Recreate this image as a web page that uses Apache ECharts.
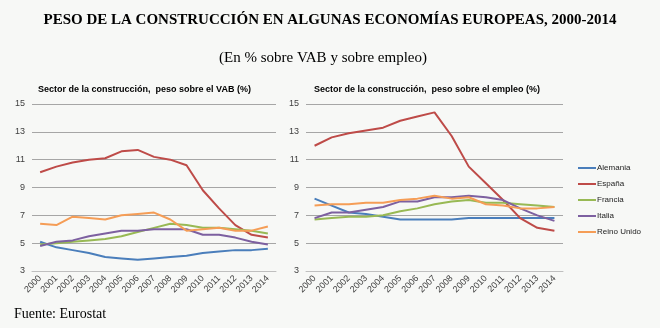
<!DOCTYPE html>
<html>
<head>
<meta charset="utf-8">
<script src="https://cdn.jsdelivr.net/npm/echarts@6/dist/echarts.min.js"></script>
<style>
html,body{margin:0;padding:0;background:#f7f8f6;}
#c{width:660px;height:328px;}
</style>
</head>
<body>
<div id="c"></div>
<script>
var years = ['2000','2001','2002','2003','2004','2005','2006','2007','2008','2009','2010','2011','2012','2013','2014'];
var seriesNames = ['Alemania','España','Francia','Italia','Reino Unido'];
var yTicks = [3,5,7,9,11,13,15];

// Peso sobre el VAB (%)
var vabAlemania   = [5.1,4.7,4.5,4.3,4.0,3.9,3.8,3.9,4.0,4.1,4.3,4.4,4.5,4.5,4.6];
var vabEspana     = [10.1,10.5,10.8,11.0,11.1,11.6,11.7,11.2,11.0,10.6,8.8,7.5,6.3,5.6,5.4];
var vabFrancia    = [4.9,5.0,5.1,5.2,5.3,5.5,5.8,6.1,6.4,6.3,6.1,6.1,6.0,5.9,5.7];
var vabItalia     = [4.8,5.1,5.2,5.5,5.7,5.9,5.9,6.0,6.0,6.0,5.6,5.6,5.4,5.1,4.9];
var vabReinoUnido = [6.4,6.3,6.9,6.8,6.7,7.0,7.1,7.2,6.7,5.9,6.0,6.1,5.9,5.9,6.2];

// Peso sobre el empleo (%)
var empAlemania   = [8.2,7.7,7.2,7.1,6.9,6.7,6.7,6.7,6.7,6.8,6.8,6.8,6.8,6.8,6.8];
var empEspana     = [12.0,12.6,12.9,13.1,13.3,13.8,14.1,14.4,12.7,10.5,9.3,8.1,6.8,6.1,5.9];
var empFrancia    = [6.7,6.8,6.9,6.9,7.0,7.3,7.5,7.8,8.0,8.1,7.9,7.9,7.8,7.7,7.6];
var empItalia     = [6.8,7.2,7.2,7.4,7.6,8.0,8.0,8.3,8.3,8.4,8.3,8.1,7.5,7.0,6.6];
var empReinoUnido = [7.7,7.8,7.8,7.9,7.9,8.1,8.2,8.4,8.2,8.3,7.8,7.7,7.5,7.5,7.6];

var colors = ['#4a7ebb','#be4b48','#98b954','#7d60a0','#f59d56'];
var vabData = [vabAlemania,vabEspana,vabFrancia,vabItalia,vabReinoUnido];
var empData = [empAlemania,empEspana,empFrancia,empItalia,empReinoUnido];

function xAxis(gi){
  return {type:'category',gridIndex:gi,data:years,boundaryGap:true,
    axisLine:{lineStyle:{color:'#bfbfbf'}},axisTick:{show:false},
    axisLabel:{rotate:45,fontSize:9,color:'#404040',fontFamily:'Liberation Sans, Arial',margin:6,interval:0}};
}
function yAxis(gi){
  return {type:'value',gridIndex:gi,min:yTicks[0],max:yTicks[yTicks.length-1],interval:2,
    axisLine:{show:false},axisTick:{show:false},
    splitLine:{lineStyle:{color:'#a6a6a6',width:1}},
    axisLabel:{fontSize:9,color:'#404040',fontFamily:'Liberation Sans, Arial',margin:7}};
}
var series = [];
seriesNames.forEach(function(n,i){
  series.push({name:n,type:'line',xAxisIndex:0,yAxisIndex:0,data:vabData[i],symbol:'none',
    lineStyle:{width:2,color:colors[i]},itemStyle:{color:colors[i]}});
});
seriesNames.forEach(function(n,i){
  series.push({name:n,type:'line',xAxisIndex:1,yAxisIndex:1,data:empData[i],symbol:'none',
    lineStyle:{width:2,color:colors[i]},itemStyle:{color:colors[i]}});
});

var chart = echarts.init(document.getElementById('c'));
chart.setOption({
  backgroundColor:'#f7f8f6',
  animation:false,
  title:[
    {text:'PESO DE LA CONSTRUCCIÓN EN ALGUNAS ECONOMÍAS EUROPEAS, 2000-2014',left:'center',top:8,
     textStyle:{fontFamily:'Liberation Serif, Times New Roman',fontSize:15,fontWeight:'bold',color:'#000'}},
    {text:'(En % sobre VAB y sobre empleo)',left:214,top:46,
     textStyle:{fontFamily:'Liberation Serif, Times New Roman',fontSize:15,fontWeight:'normal',color:'#000'}},
    {text:'Sector de la construcción,  peso sobre el VAB (%)',left:33,top:80,
     textStyle:{fontFamily:'Liberation Sans, Arial',fontSize:9,fontWeight:'bold',color:'#000'}},
    {text:'Sector de la construcción,  peso sobre el empleo (%)',left:309,top:80,
     textStyle:{fontFamily:'Liberation Sans, Arial',fontSize:9,fontWeight:'bold',color:'#000'}},
    {text:'Fuente: Eurostat',left:9,top:302,
     textStyle:{fontFamily:'Liberation Serif, Times New Roman',fontSize:14,fontWeight:'normal',color:'#000'}}
  ],
  legend:{orient:'vertical',left:573,top:159,itemWidth:18,itemHeight:2,itemGap:8,
    icon:'rect',data:seriesNames,
    textStyle:{fontSize:8,color:'#222',fontFamily:'Liberation Sans, Arial',padding:[0,0,0,-4]}},
  grid:[
    {left:32,right:384,top:104,bottom:57,containLabel:false},
    {left:306,right:97,top:104,bottom:57,containLabel:false}
  ],
  xAxis:[xAxis(0),xAxis(1)],
  yAxis:[yAxis(0),yAxis(1)],
  series:series
});
</script>
</body>
</html>
